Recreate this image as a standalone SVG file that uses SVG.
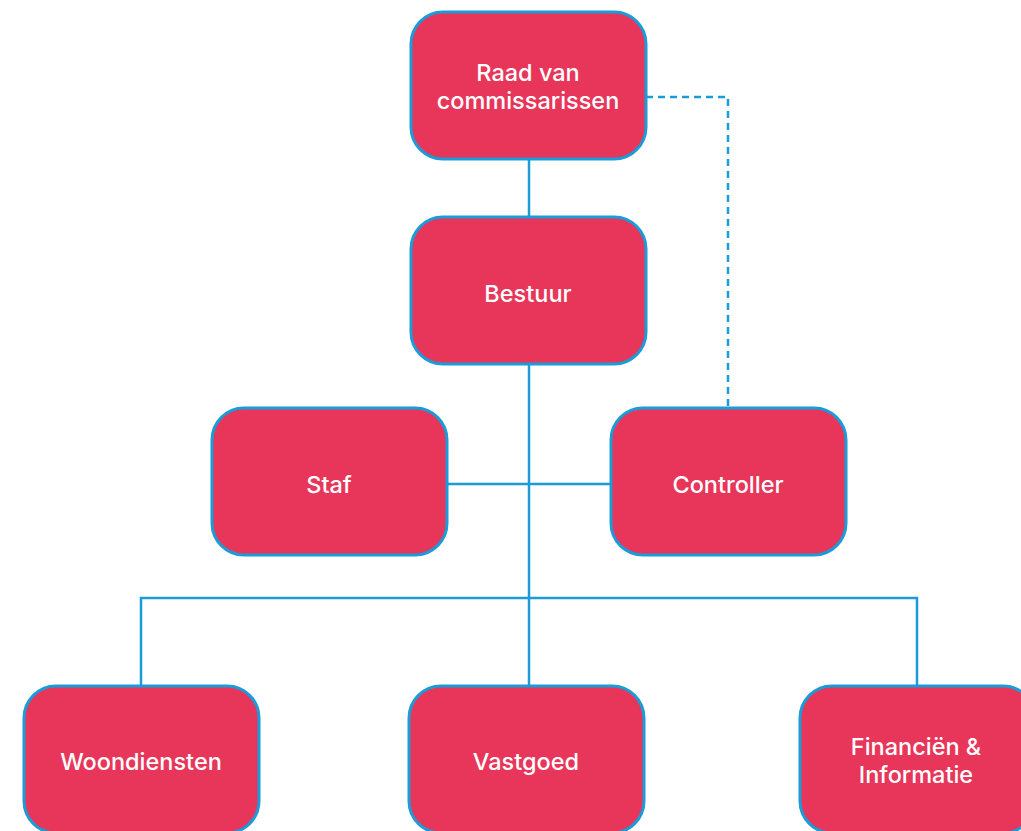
<svg xmlns="http://www.w3.org/2000/svg" width="1021" height="831" viewBox="0 0 1021 831">
<style>
.box{fill:#e8355a;stroke:#1b9bd7;stroke-width:3}
.lbl{fill:#fff;font-family:Inter,"Noto Sans",sans-serif;font-size:23.5px;font-weight:500;text-anchor:middle}
.ln{fill:none;stroke:#1b9bd7;stroke-width:2.5}
.dash{fill:none;stroke:#1b9bd7;stroke-width:2.5;stroke-dasharray:7,5}
</style>
<rect width="1021" height="831" fill="#fff"/>
<g id="connectors">
<line class="ln" x1="529" y1="159" x2="529" y2="217"/>
<line class="ln" x1="529" y1="364" x2="529" y2="686"/>
<line class="ln" x1="447" y1="484" x2="610" y2="484"/>
<polyline class="ln" points="141,686 141,598 917,598 917,686"/>
<polyline class="dash" points="646,97 728,97 728,408"/>
</g>
<g id="raad"><rect class="box" x="411" y="12" width="235" height="147" rx="32"/><text class="lbl" x="528" y="81">Raad van</text><text class="lbl" x="528" y="109">commissarissen</text></g>
<g id="bestuur"><rect class="box" x="411" y="217" width="235" height="147" rx="32"/><text class="lbl" x="528" y="302">Bestuur</text></g>
<g id="staf"><rect class="box" x="212" y="408" width="235" height="147" rx="32"/><text class="lbl" x="329" y="493">Staf</text></g>
<g id="controller"><rect class="box" x="611" y="408" width="235" height="147" rx="32"/><text class="lbl" x="728" y="493">Controller</text></g>
<g id="woondiensten"><rect class="box" x="24" y="686" width="235" height="147" rx="32"/><text class="lbl" x="141" y="770">Woondiensten</text></g>
<g id="vastgoed"><rect class="box" x="409" y="686" width="235" height="147" rx="32"/><text class="lbl" x="526" y="770">Vastgoed</text></g>
<g id="financien"><rect class="box" x="800" y="686" width="235" height="147" rx="32"/><text class="lbl" x="916" y="755">Financiën &amp;</text><text class="lbl" x="916" y="783">Informatie</text></g>
</svg>
